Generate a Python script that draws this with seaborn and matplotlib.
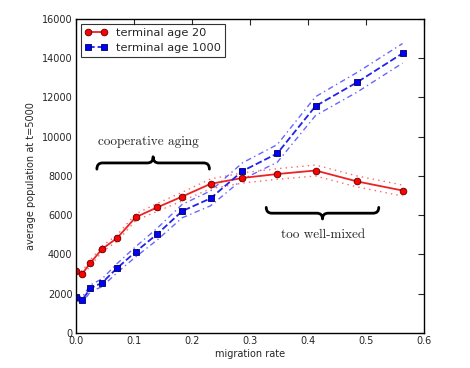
import numpy as np
import pandas as pd
import matplotlib
matplotlib.use("Agg")
import matplotlib.pyplot as plt
from matplotlib.path import Path
from matplotlib.patches import PathPatch
import seaborn as sns

# migration rates and average population at t=5000
migration = [0.0, 0.0103, 0.025, 0.045, 0.071, 0.103, 0.140, 0.183, 0.232,
             0.287, 0.347, 0.413, 0.485, 0.563]
pop_age20 = [3180, 3000, 3580, 4280, 4840, 5900, 6400, 6950, 7600,
             7900, 8100, 8280, 7720, 7260]
pop_age1000 = [1820, 1670, 2280, 2560, 3310, 4140, 5040, 6210, 6860,
               8250, 9150, 11560, 12780, 14250]
# half width of the uncertainty band
err_age20 = [150, 150, 150, 150, 160, 170, 200, 220, 250, 260, 270, 280, 280, 280]
err_age1000 = [150, 150, 170, 200, 230, 260, 300, 340, 380, 420, 450, 480, 500, 500]

label20 = "terminal age 20"
label1000 = "terminal age 1000"


def Brace(ax, x0, x1, yEnd, yTip, q=0.05):
    # curly brace between x0 and x1; tip at yTip, ends at yEnd
    w = x1 - x0
    ym = 0.5 * (yEnd + yTip)
    xm = 0.5 * (x0 + x1)
    verts = [(x0, yEnd), (x0, ym), (x0 + q * w, ym),
             (xm - q * w, ym),
             (xm, ym), (xm, yTip),
             (xm, ym), (xm + q * w, ym),
             (x1 - q * w, ym),
             (x1, ym), (x1, yEnd)]
    codes = [Path.MOVETO, Path.CURVE3, Path.CURVE3,
             Path.LINETO,
             Path.CURVE3, Path.CURVE3,
             Path.CURVE3, Path.CURVE3,
             Path.LINETO,
             Path.CURVE3, Path.CURVE3]
    ax.add_patch(PathPatch(Path(verts, codes), fill=False, lw=2.0, color="black",
                           capstyle="round", joinstyle="round"))


sns.set_style("white")
plt.rcParams.update({
    "xtick.direction": "in", "ytick.direction": "in",
    "xtick.top": True, "ytick.right": True,
    "xtick.major.size": 4, "ytick.major.size": 4,
    "xtick.labelsize": 7, "ytick.labelsize": 7,
    "axes.linewidth": 1.0, "axes.edgecolor": "black",
})

df = pd.DataFrame({"m": migration, "p20": pop_age20, "p1000": pop_age1000,
                   "e20": err_age20, "e1000": err_age1000})

fig = plt.figure(figsize=(4.7, 3.68), dpi=100)
ax = fig.add_axes([0.1617, 0.0951, 0.7404, 0.8533])

# uncertainty bands
for col, err, colour, dash in [("p20", "e20", "red", (1, 3)),
                               ("p1000", "e1000", "blue", (4, 2.5, 1, 2.5))]:
    for sign in (1, -1):
        n = len(ax.lines)
        sns.lineplot(x=df["m"], y=df[col] + sign * df[err], ax=ax, color=colour,
                     lw=1.0, alpha=0.6, linestyle=(0, dash))
        for line in ax.lines[n:]:
            line.set_linestyle((0, dash))

# main curves
sns.lineplot(data=df, x="m", y="p20", ax=ax, color="#ee2222", lw=1.3,
             marker="o", markersize=4.8, markerfacecolor="red",
             markeredgecolor="#550000", markeredgewidth=0.6, label=label20)
sns.lineplot(data=df, x="m", y="p1000", ax=ax, color="#2222ee", lw=1.3,
             linestyle="--", marker="s", markersize=4.8, markerfacecolor="blue",
             markeredgecolor="#000055", markeredgewidth=0.6, label=label1000)

ax.set_xlim(0, 0.6)
ax.set_ylim(0, 16000)
ax.set_xticks(np.arange(0, 0.61, 0.1))
ax.set_yticks(np.arange(0, 16001, 2000))
ax.set_xticklabels([f"{v:.1f}" for v in np.arange(0, 0.61, 0.1)])
ax.set_xlabel("migration rate", fontsize=7, labelpad=2)
ax.set_ylabel("average population at t=5000", fontsize=7, labelpad=4)
ax.tick_params(pad=2.5)

# annotations
Brace(ax, 0.036, 0.23, 8350, 8980)
ax.text(0.124, 9750, "cooperative aging", fontname="cmr10", fontsize=9.5,
        ha="center", va="center")
Brace(ax, 0.328, 0.522, 6400, 5810)
ax.text(0.426, 4990, "too well-mixed", fontname="cmr10", fontsize=9.5,
        ha="center", va="center")

leg = ax.legend(loc="upper left", fontsize=8.2, numpoints=2, handlelength=2.0,
                fancybox=False, frameon=True, borderaxespad=0.4,
                handletextpad=0.8, borderpad=0.35, labelspacing=0.45)
leg.get_frame().set_edgecolor("black")
leg.get_frame().set_linewidth(0.8)

fig.savefig("out.png", dpi=100)
